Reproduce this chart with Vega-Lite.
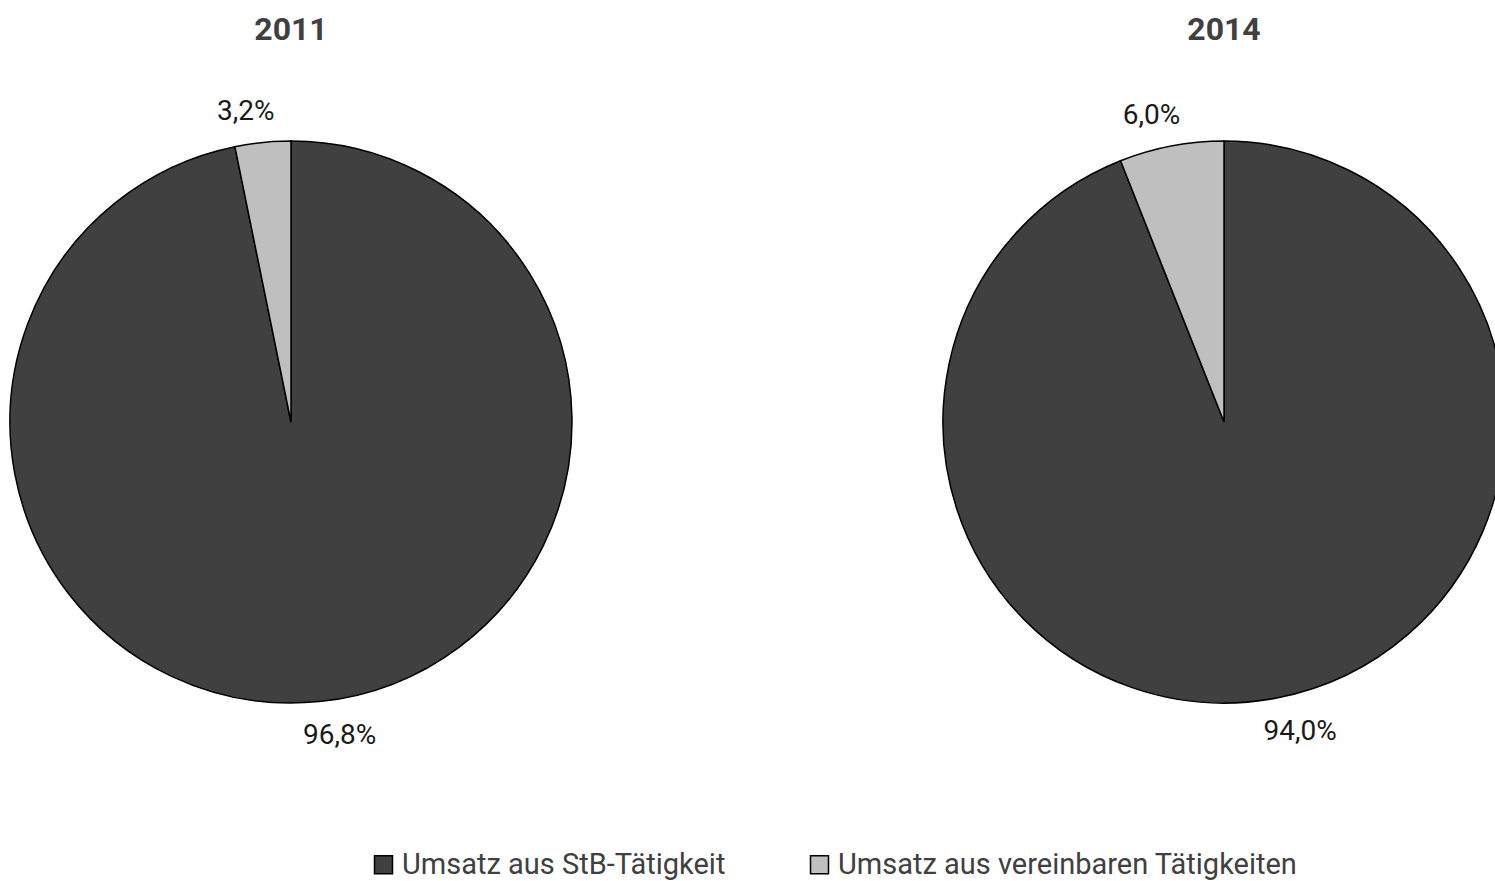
{
  "$schema": "https://vega.github.io/schema/vega-lite/v6.json",
  "padding": {"top": 14, "left": 0, "right": 0, "bottom": 0},
  "background": "white",
  "data": {
    "values": [
      {"year": "2011", "category": "Umsatz aus StB-Tätigkeit", "share": 96.8, "label": "96,8%"},
      {"year": "2011", "category": "Umsatz aus vereinbaren Tätigkeiten", "share": 3.2, "label": "3,2%"},
      {"year": "2014", "category": "Umsatz aus StB-Tätigkeit", "share": 94.0, "label": "94,0%"},
      {"year": "2014", "category": "Umsatz aus vereinbaren Tätigkeiten", "share": 6.0, "label": "6,0%"}
    ]
  },
  "facet": {
    "column": {
      "field": "year",
      "type": "nominal",
      "title": null,
      "header": {
        "labelFont": "Roboto",
        "labelFontWeight": "bold",
        "labelFontSize": 32,
        "labelColor": "#404040",
        "labelPadding": 15
      }
    }
  },
  "spacing": 351,
  "spec": {
    "width": 582,
    "height": 720,
    "layer": [
      {
        "mark": {"type": "arc", "outerRadius": 281, "stroke": "#000000", "strokeWidth": 1.5},
        "encoding": {
          "theta": {"field": "share", "type": "quantitative", "stack": true},
          "order": {"field": "category", "type": "nominal", "sort": "ascending"},
          "color": {
            "field": "category",
            "type": "nominal",
            "scale": {
              "domain": ["Umsatz aus StB-Tätigkeit", "Umsatz aus vereinbaren Tätigkeiten"],
              "range": ["#404040", "#bfbfbf"]
            },
            "legend": {
              "title": null,
              "orient": "none",
              "legendX": 369,
              "legendY": 788,
              "direction": "horizontal",
              "columns": 2,
              "columnPadding": 79,
              "symbolType": "square",
              "symbolSize": 324,
              "symbolStrokeColor": "#000000",
              "symbolStrokeWidth": 1.5,
              "labelFont": "Roboto",
              "labelFontSize": 29,
              "labelColor": "#404040",
              "labelOffset": 4,
              "labelLimit": 600
            }
          }
        }
      },
      {
        "mark": {
          "type": "text",
          "radius": 312,
          "dx": -14,
          "font": "Roboto",
          "fontSize": 28,
          "color": "#1a1a1a"
        },
        "encoding": {
          "theta": {"field": "share", "type": "quantitative", "stack": true},
          "order": {"field": "category", "type": "nominal", "sort": "ascending"},
          "detail": {"field": "category", "type": "nominal"},
          "text": {
            "condition": {"test": "datum.category === 'Umsatz aus vereinbaren Tätigkeiten'", "field": "label", "type": "nominal"},
            "value": ""
          }
        }
      },
      {
        "mark": {
          "type": "text",
          "radius": 316,
          "dx": 17,
          "font": "Roboto",
          "fontSize": 28,
          "color": "#1a1a1a"
        },
        "encoding": {
          "theta": {"field": "share", "type": "quantitative", "stack": true},
          "order": {"field": "category", "type": "nominal", "sort": "ascending"},
          "detail": {"field": "category", "type": "nominal"},
          "text": {
            "condition": {"test": "datum.category === 'Umsatz aus StB-Tätigkeit'", "field": "label", "type": "nominal"},
            "value": ""
          }
        }
      }
    ]
  },
  "config": {"view": {"stroke": null}}
}
